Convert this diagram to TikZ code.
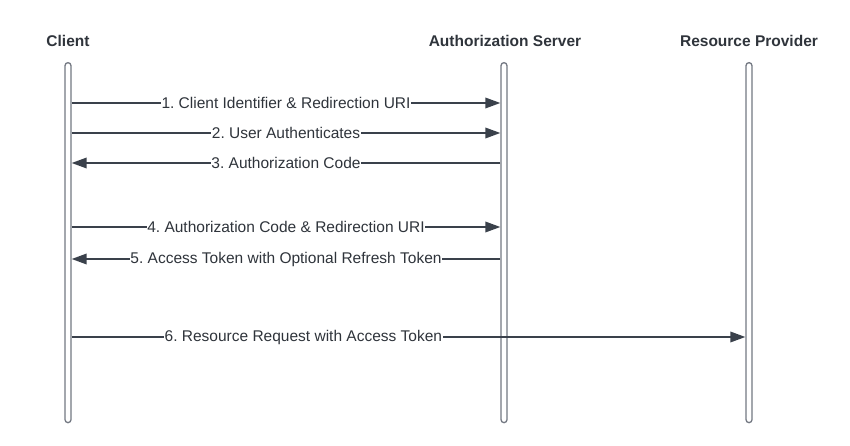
\documentclass[tikz,border=0pt]{standalone}
\usepackage{fontspec}
\setmainfont{Liberation Sans}
\usetikzlibrary{arrows.meta}
\definecolor{ink}{HTML}{3A414B}
\definecolor{life}{HTML}{737882}
\definecolor{txt}{HTML}{2F343B}
\frenchspacing
\begin{document}
\begin{tikzpicture}[x=1pt,y=-1pt,
  lifeline/.style={draw=life,line width=1.3pt,fill=white,rounded corners=3pt,minimum width=6pt,minimum height=360pt,inner sep=0pt,anchor=north},
  header/.style={font=\fontsize{15.5}{18}\selectfont\bfseries,text=txt,inner sep=0pt},
  msg/.style={draw=ink,line width=1.8pt,-{Triangle[length=15pt,width=10.5pt]}},
  lbl/.style={fill=white,inner xsep=0.5pt,inner ysep=1pt,font=\fontsize{15.5}{18}\selectfont,text=txt}]
\useasboundingbox (0,0) rectangle (850,446);
\node[lifeline] (cl) at (68,62) {};
\node[lifeline] (as) at (504,62) {};
\node[lifeline] (rp) at (749,62) {};
\node[header] (hcl) at (68,41) {Client};
\node[header] (has) at (505,41) {Authorization Server};
\node[header] (hrp) at (749,41) {Resource Provider};
\draw[msg] (cl.east |- 0,103) -- node[lbl]{1. Client Identifier \& Redirection URI} (as.west |- 0,103);
\draw[msg] (cl.east |- 0,133) -- node[lbl]{2. User Authenticates} (as.west |- 0,133);
\draw[msg] (as.west |- 0,163) -- node[lbl]{3. Authorization Code} (cl.east |- 0,163);
\draw[msg] (cl.east |- 0,227) -- node[lbl]{4. Authorization Code \& Redirection URI} (as.west |- 0,227);
\draw[msg] (as.west |- 0,259) -- node[lbl]{5. Access Token with Optional Refresh Token} (cl.east |- 0,259);
\draw[msg] (cl.east |- 0,337) -- node[lbl,pos=0.344]{6. Resource Request with Access Token} (rp.west |- 0,337);
\end{tikzpicture}
\end{document}
